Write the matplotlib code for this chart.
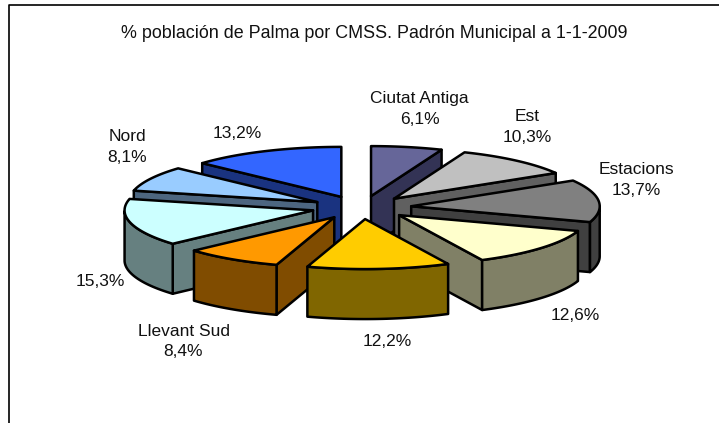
import matplotlib
matplotlib.use("Agg")
import matplotlib.pyplot as plt
import numpy as np
from matplotlib.patches import Polygon

plt.rcParams['font.family'] = ['Liberation Sans', 'DejaVu Sans']

title = "% población de Palma por CMSS. Padrón Municipal a 1-1-2009"
names = ["Ciutat Antiga", "Est", "Estacions", "", "", "Llevant Sud", "", "Nord", ""]
values = [6.1, 10.3, 13.7, 12.6, 12.2, 8.4, 15.3, 8.1, 13.2]
top_colors = ["#666699", "#C0C0C0", "#808080", "#FFFFCC", "#FFCC00",
              "#FF9900", "#CCFFFF", "#99CCFF", "#3366FF"]
side_colors = ["#333355", "#606060", "#404040", "#808066", "#806600",
               "#804C00", "#668080", "#4D6680", "#1A3380"]
label_pos = [(419.5, 109), (527, 127), (636, 180), (575, 315), (387, 341),
             (183.5, 341.5), (100, 281), (127, 147), (237, 134)]

# pie geometry in pixels
cx, cy = 361.5, 207.5
rx, ry = 188.5, 50
ex, ey = 50, 11.6
depth = 50


def draw_wedge(ax, a0, a1, top, side):
    mid = (a0 + a1) / 2
    ox = cx + ex * np.sin(mid)
    oy = cy - ey * np.cos(mid)
    t = np.linspace(a0, a1, 60)
    xs = ox + rx * np.sin(t)
    ys = oy - ry * np.cos(t)

    # only the cut faces turned to the viewer
    if np.sin(a0) < -1e-6:
        quad = [(ox, oy), (xs[0], ys[0]), (xs[0], ys[0] + depth), (ox, oy + depth)]
        ax.add_patch(Polygon(quad, fc=side, ec='black', lw=1.8, joinstyle='round'))
    if np.sin(a1) > 1e-6:
        quad = [(ox, oy), (xs[-1], ys[-1]), (xs[-1], ys[-1] + depth), (ox, oy + depth)]
        ax.add_patch(Polygon(quad, fc=side, ec='black', lw=1.8, joinstyle='round'))
    front = np.cos(t) < 0
    if front.any():
        fx, fy = xs[front], ys[front]
        rim = list(zip(fx, fy)) + list(zip(fx[::-1], fy[::-1] + depth))
        ax.add_patch(Polygon(rim, fc=side, ec='black', lw=1.8, joinstyle='round'))
    outline = [(ox, oy)] + list(zip(xs, ys))
    ax.add_patch(Polygon(outline, fc=top, ec='black', lw=1.8, joinstyle='round'))


fig = plt.figure(figsize=(7.19, 4.23), dpi=100)
ax = fig.add_axes([0, 0, 1, 1])
ax.set_xlim(0, 719)
ax.set_ylim(423, 0)
ax.axis('off')

ax.plot([9, 9, 719], [423, 5.5, 5.5], color='black', lw=1.2)
ax.text(374.5, 33, title, ha='center', va='center', fontsize=12.9, color='#111111')

# angles run clockwise from 12 o'clock
fracs = np.array(values) / sum(values)
ends = np.cumsum(fracs) * 2 * np.pi
starts = ends - fracs * 2 * np.pi
mids = (starts + ends) / 2
for i in np.argsort(-np.cos(mids)):
    draw_wedge(ax, starts[i], ends[i], top_colors[i], side_colors[i])

for name, val, (x, y) in zip(names, values, label_pos):
    pct = f"{val:.1f}%".replace('.', ',')
    label = f"{name}\n{pct}" if name else pct
    ax.text(x, y, label, ha='center', va='center', fontsize=12.5, color='#111111',
            linespacing=1.42)

fig.savefig("out.png", dpi=100)
